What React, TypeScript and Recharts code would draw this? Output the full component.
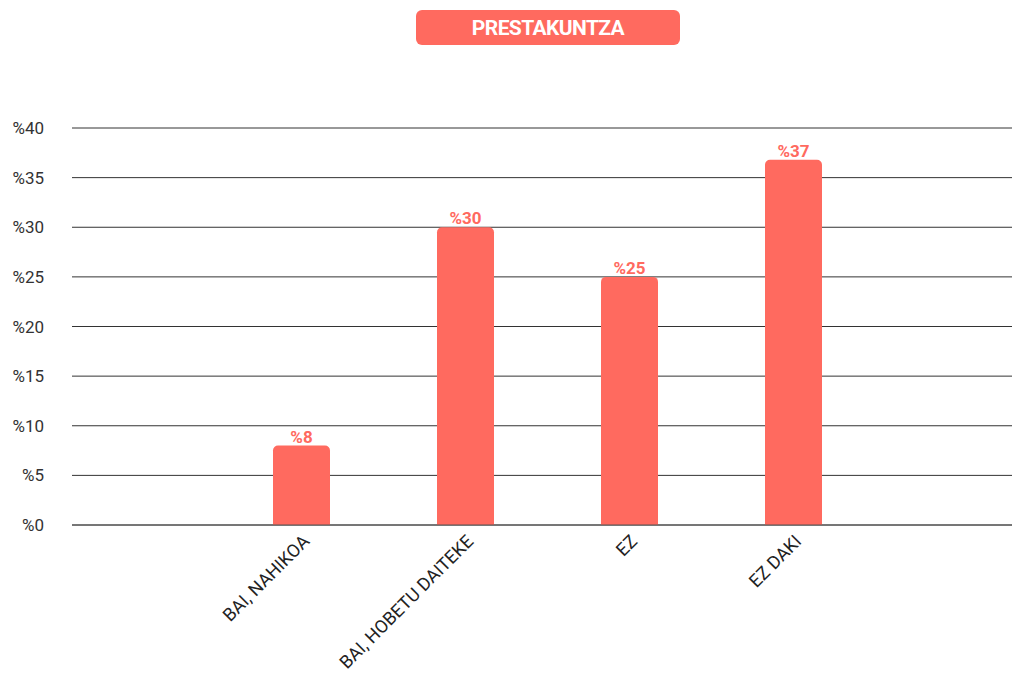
import React from 'react';
import { BarChart, Bar, XAxis, YAxis, CartesianGrid, LabelList } from 'recharts';

const categories = ['BAI, NAHIKOA', 'BAI, HOBETU DAITEKE', 'EZ', 'EZ DAKI'];
const percents = [8, 30, 25, 36.8];
const yTicks = [0, 5, 10, 15, 20, 25, 30, 35, 40];

const CORAL = '#ff6a5f';

const chartData = categories.map((name, i) => ({ name, value: percents[i] }));

const AngledTick: React.FC<any> = ({ x, y, payload }) => (
    <g transform={`translate(${x + 5},${y + 5})`}>
        <text x={0} y={0} dy="0.35em" textAnchor="end" transform="rotate(-45)" fill="#222" fontSize={18}>
            {payload.value}
        </text>
    </g>
);

const App: React.FC = () => {
    return (
        <div style={{ position: 'absolute', left: 0, top: 0, width: 1012, height: 675, background: '#fff', fontFamily: 'Roboto, sans-serif' }}>
            <div
                style={{
                    position: 'absolute', left: 416, top: 10, width: 264, height: 35,
                    background: CORAL, borderRadius: 6, color: '#fff', fontWeight: 700,
                    fontSize: 21, lineHeight: '36px', textAlign: 'center', letterSpacing: -0.6,
                }}
            >
                PRESTAKUNTZA
            </div>
            <BarChart width={1012} height={675} data={chartData} margin={{ top: 128, right: 0, left: 0, bottom: 0 }}>
                <CartesianGrid vertical={false} stroke="#333" />
                <XAxis
                    dataKey="name"
                    height={150}
                    padding={{ left: 147, right: 137 }}
                    tickLine={false}
                    axisLine={{ stroke: '#555' }}
                    interval={0}
                    tick={<AngledTick />}
                />
                <YAxis
                    width={72}
                    domain={[0, 40]}
                    ticks={yTicks}
                    tickFormatter={(v) => `%${v}`}
                    axisLine={false}
                    tickLine={false}
                    tickSize={0}
                    tickMargin={28}
                    tick={{ fill: '#333', fontSize: 17 }}
                />
                <Bar dataKey="value" fill={CORAL} barSize={57} radius={[5, 5, 0, 0]} isAnimationActive={false}>
                    <LabelList
                        dataKey="value"
                        position="top"
                        offset={3}
                        formatter={(v: any) => `%${Math.round(v)}`}
                        style={{ fill: CORAL, fontWeight: 700, fontSize: 17 }}
                    />
                </Bar>
            </BarChart>
        </div>
    );
};

export default App;
